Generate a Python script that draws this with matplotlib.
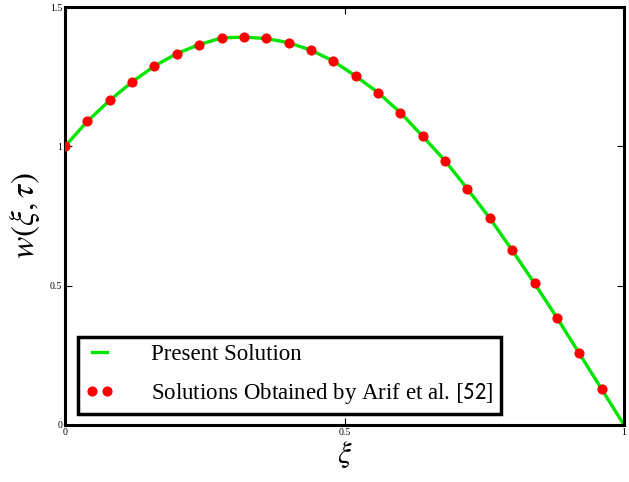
import numpy as np
import matplotlib
matplotlib.use("Agg")
import matplotlib.pyplot as plt

plt.rcParams['font.family'] = ['Liberation Serif', 'DejaVu Serif']
plt.rcParams['mathtext.fontset'] = 'stix'

# Data
xi_points = [0.00, 0.04, 0.08, 0.12, 0.16, 0.20, 0.24, 0.28, 0.32, 0.36, 0.40, 0.44, 0.48,
             0.52, 0.56, 0.60, 0.64, 0.68, 0.72, 0.76, 0.80, 0.84, 0.88, 0.92, 0.96]
w_arif = [1.000, 1.090, 1.165, 1.231, 1.288, 1.333, 1.365, 1.389, 1.392, 1.387, 1.372, 1.345, 1.306,
          1.252, 1.193, 1.121, 1.036, 0.948, 0.847, 0.742, 0.627, 0.508, 0.385, 0.257, 0.129]
xi_line = xi_points + [1.00]
w_present = w_arif + [0.000]

x_ticks = [0, 0.5, 1]
x_tick_labels = ['0', '0.5', '1']
y_ticks = [0, 0.5, 1, 1.5]
y_tick_labels = ['0', '0.5', '1', '1.5']

fig = plt.figure(figsize=(6.29, 4.82), dpi=100)
ax = fig.add_axes([65/629, 1-425/482, 559/629, 418/482])

ax.plot(xi_line, w_present, color='#00e400', lw=2.4, label='Present Solution', zorder=2)
ax.plot(xi_points, w_arif, 'o', color='#ff0000', ms=7.3, mec='none',
        label=r'Solutions Obtained by Arif et al. $\mathsf{[52]}$', zorder=3)

ax.set_xlim(0, 1)
ax.set_ylim(0, 1.5)
ax.set_xticks(x_ticks)
ax.set_xticklabels(x_tick_labels)
ax.set_yticks(y_ticks)
ax.set_yticklabels(y_tick_labels)
ax.tick_params(direction='in', length=5, width=0.8, labelsize=7, pad=2,
               top=True, right=True)
for s in ax.spines.values():
    s.set_linewidth(2.2)

ax.set_xlabel(r'$\xi$', fontsize=22, labelpad=2)
ax.set_ylabel(r'$w(\xi,\tau)$', fontsize=24, labelpad=6)

leg = ax.legend(loc='lower left', bbox_to_anchor=(78/629, 1-414/482),
                bbox_transform=fig.transFigure, fontsize=16.5, numpoints=2,
                handlelength=1.25, handletextpad=1.6, borderpad=0.33,
                labelspacing=0.7, fancybox=False, framealpha=1, borderaxespad=0)
leg.get_frame().set_edgecolor('black')
leg.get_frame().set_linewidth(2.5)

fig.savefig('out.png', dpi=100)
